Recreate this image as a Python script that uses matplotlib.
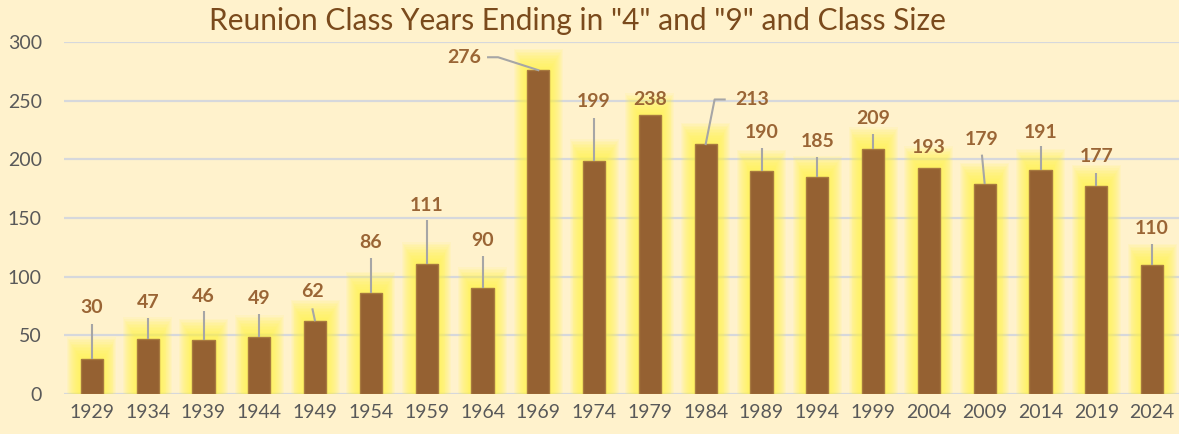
import matplotlib
matplotlib.use("Agg")
import matplotlib.pyplot as plt
import numpy as np

years = ["1929", "1934", "1939", "1944", "1949", "1954", "1959", "1964", "1969", "1974",
         "1979", "1984", "1989", "1994", "1999", "2004", "2009", "2014", "2019", "2024"]
class_size = [30, 47, 46, 49, 62, 86, 111, 90, 276, 199,
              238, 213, 190, 185, 209, 193, 179, 191, 177, 110]
y_ticks = [0, 50, 100, 150, 200, 250, 300]
title = 'Reunion Class Years Ending in "4" and "9" and Class Size'

# label layout (data-unit positions of label centers and leader-line tops)
label_y = [74, 78, 83, 81, 87, 129, 161, 131, 287, 249,
           251, 251, 223, 215, 235, 210, 217, 223, 202, 141]
line_top = [60, 65, 71, 68, 73, 116, 148, 118, None, 235,
            None, None, 210, 202, 222, None, 204, 211, 188, 128]
line_dx = [0, 0, 0, 0, -0.05, 0, 0, 0, 0, 0,
           0, 0, 0, 0, 0, 0, -0.05, 0, 0, 0]

BG = "#FFF2CC"
BAR = "#956132"
LBL = "#9A6535"
LINE = "#A6A6A6"
FONT = "Lato"

fig = plt.figure(figsize=(11.79, 4.34), dpi=100)
fig.patch.set_facecolor(BG)
ax = fig.add_axes([64 / 1179, 40 / 434, 1116 / 1179, 352 / 434])
ax.set_facecolor(BG)

x = np.arange(len(years))
vals = np.array(class_size)

# soft yellow glow
for k in range(14, 0, -1):
    w = 0.40 + k * 0.034
    ext = k * 1.3
    ax.bar(x, vals + ext, width=w, color="#FFF24E", alpha=0.10, zorder=1, linewidth=0)

ax.bar(x, vals, width=0.40, color=BAR, edgecolor="#A87A3E", linewidth=1.0, zorder=3)

ax.set_xlim(-0.5, len(years) - 0.5)
ax.set_ylim(0, 300)
ax.set_yticks(y_ticks)
ax.set_xticks(x)
ax.set_xticklabels(years)
ax.grid(axis="y", color="#D6D8DC", linewidth=1.6, zorder=0)
ax.set_axisbelow(True)
for s in ax.spines.values():
    s.set_visible(False)
ax.tick_params(axis="both", length=0, colors="#595959", labelsize=14)
ax.tick_params(axis="y", pad=16)
ax.tick_params(axis="x", pad=7)
for t in ax.get_xticklabels() + ax.get_yticklabels():
    t.set_fontfamily(FONT)

# data labels with leader lines
for i, v in enumerate(class_size):
    lt = line_top[i]
    if lt is not None:
        ax.plot([i, i + line_dx[i]], [v, lt], color=LINE, lw=1.5, zorder=4,
                solid_capstyle="butt")
    lx = i + line_dx[i]
    if years[i] == "1969":
        ax.plot([i, i - 0.72, i - 0.9], [v, label_y[i], label_y[i]], color=LINE, lw=1.5, zorder=4)
        lx = i - 1.33
    if years[i] == "1984":
        ax.plot([i, i + 0.16, i + 0.34], [v, label_y[i], label_y[i]], color=LINE, lw=1.5, zorder=4)
        lx = i + 0.83
    ax.text(lx, label_y[i], str(v), ha="center", va="center", fontsize=14,
            fontweight="bold", color=LBL, family=FONT, zorder=5)

fig.text(577 / 1179, 1 - 21 / 434, title, ha="center", va="center",
         fontsize=21.5, color="#7A4A1C", family=FONT)

fig.savefig("out.png", dpi=100, facecolor=BG)
